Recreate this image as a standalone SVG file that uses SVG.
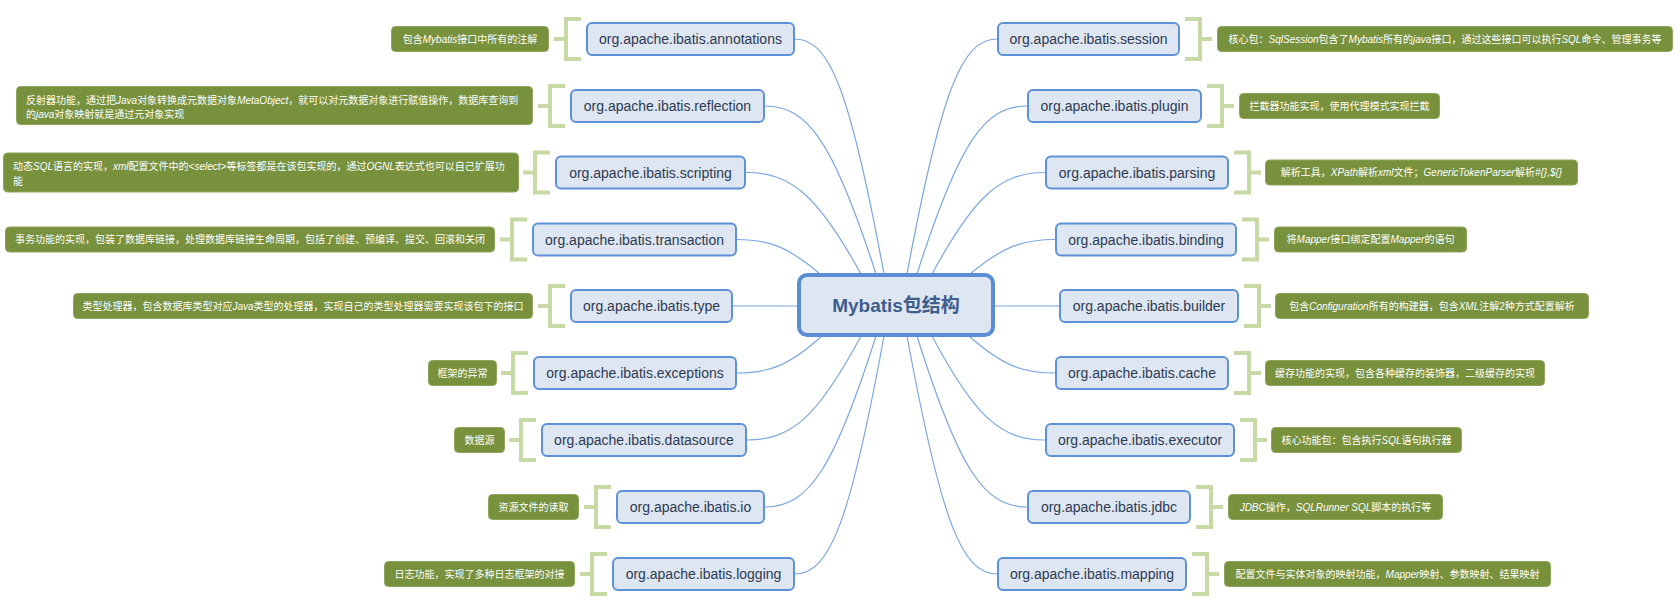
<svg xmlns="http://www.w3.org/2000/svg" width="1680" height="609" viewBox="0 0 1680 609">
<style>
.bg{fill:#ffffff}
.box{fill:#dde6f1;stroke:#5e92d8;stroke-width:2}
.central{fill:#dde6f1;stroke:#5a8dd3;stroke-width:4}
.btxt{font-family:"Liberation Sans","Noto Sans CJK SC",sans-serif;font-size:14px;fill:#2d3a52;text-anchor:middle}
.ctxt{font-family:"Liberation Sans","Noto Sans CJK SC",sans-serif;font-size:19px;font-weight:bold;fill:#3d5d8c;text-anchor:middle}
.lbl{fill:#78913d;stroke:#8fa65a;stroke-width:1}
.ltxt{font-family:"Liberation Sans","Noto Sans CJK SC",sans-serif;font-size:10px;fill:#ffffff;text-anchor:middle}
.ltxtl{font-family:"Liberation Sans","Noto Sans CJK SC",sans-serif;font-size:10px;fill:#ffffff;text-anchor:start}
.i{font-style:italic}
.br{fill:none;stroke:#c7daa6;stroke-width:4}
.con{fill:none;stroke:#7ba7e0;stroke-width:1.2}
</style>
<rect class="bg" x="0" y="0" width="1680" height="609"/>
<g id="connectors">
<path class="con" d="M795 39 C829.7 39 850.2 90.7 884 274"/>
<path class="con" d="M765 106 C808.3 106 833.8 143 876 274"/>
<path class="con" d="M746 172.5 C790.9 172.5 817.3 194.8 861 274"/>
<path class="con" d="M737 239.5 C769.4 239.5 788.5 247.1 820 274"/>
<path class="con" d="M733 306 L799 306"/>
<path class="con" d="M737 373 C770.2 373 789.7 364.9 822 336"/>
<path class="con" d="M747 440 C791.5 440 817.7 417.1 861 336"/>
<path class="con" d="M765 507 C808.3 507 833.8 469.4 876 336"/>
<path class="con" d="M795 574 C829.7 574 850.2 521.6 884 336"/>
<path class="con" d="M997 39 C961.9 39 941.2 90.7 907 274"/>
<path class="con" d="M1027 106 C984.1 106 958.8 143 917 274"/>
<path class="con" d="M1045 172.5 C1000.9 172.5 975 194.8 932 274"/>
<path class="con" d="M1055 239.5 C1021.9 239.5 1002.3 247.1 970 274"/>
<path class="con" d="M993 306 L1059 306"/>
<path class="con" d="M1055 373 C1021.5 373 1001.7 364.9 969 336"/>
<path class="con" d="M1045 440 C1000.9 440 975 417.1 932 336"/>
<path class="con" d="M1027 507 C984.1 507 958.8 469.4 917 336"/>
<path class="con" d="M997 574 C961.9 574 941.2 521.6 907 336"/>
</g>
<g id="node-central">
<rect class="central" x="799" y="275" width="194" height="60" rx="8"/>
<text class="ctxt" x="896" y="312">Mybatis包结构</text>
</g>
<g id="node-annotations">
<rect class="box" x="587" y="23" width="207" height="32" rx="5"/>
<text class="btxt" x="690.5" y="44">org.apache.ibatis.annotations</text>
<path class="br" d="M581 19 H566 V59 H581 M554 39 H566"/>
<rect class="lbl" x="391.5" y="26.5" width="157" height="25" rx="4"/>
<text class="ltxt" x="470" y="42.5">包含<tspan class="i">Mybatis</tspan>接口中所有的注解</text>
</g>
<g id="node-reflection">
<rect class="box" x="571" y="90" width="193" height="32" rx="5"/>
<text class="btxt" x="667.5" y="111">org.apache.ibatis.reflection</text>
<path class="br" d="M565 86 H550 V126 H565 M538 106 H550"/>
<rect class="lbl" x="16.5" y="86.5" width="516" height="38" rx="4"/>
<text class="ltxtl" x="26" y="104">反射器功能，通过把<tspan class="i">Java</tspan>对象转换成元数据对象<tspan class="i">MetaObject</tspan>，就可以对元数据对象进行赋值操作，数据库查询到</text>
<text class="ltxtl" x="26" y="118">的<tspan class="i">java</tspan>对象映射就是通过元对象实现</text>
</g>
<g id="node-scripting">
<rect class="box" x="556" y="156.5" width="189" height="32" rx="5"/>
<text class="btxt" x="650.5" y="177.5">org.apache.ibatis.scripting</text>
<path class="br" d="M550 152.5 H535 V192.5 H550 M523 172.5 H535"/>
<rect class="lbl" x="3.5" y="153" width="515" height="39" rx="4"/>
<text class="ltxtl" x="13" y="170">动态<tspan class="i">SQL</tspan>语言的实现，<tspan class="i">xml</tspan>配置文件中的<tspan class="i">&lt;select&gt;</tspan>等标签都是在该包实现的，通过<tspan class="i">OGNL</tspan>表达式也可以自己扩展功</text>
<text class="ltxtl" x="13" y="185">能</text>
</g>
<g id="node-transaction">
<rect class="box" x="533" y="223.5" width="203" height="32" rx="5"/>
<text class="btxt" x="634.5" y="244.5">org.apache.ibatis.transaction</text>
<path class="br" d="M527 219.5 H512 V259.5 H527 M500 239.5 H512"/>
<rect class="lbl" x="5.5" y="227" width="489" height="25" rx="4"/>
<text class="ltxt" x="250" y="243">事务功能的实现，包装了数据库链接，处理数据库链接生命周期，包括了创建、预编译、提交、回滚和关闭</text>
</g>
<g id="node-type">
<rect class="box" x="571" y="290" width="161" height="32" rx="5"/>
<text class="btxt" x="651.5" y="311">org.apache.ibatis.type</text>
<path class="br" d="M565 286 H550 V326 H565 M538 306 H550"/>
<rect class="lbl" x="73.5" y="293.5" width="459" height="25" rx="4"/>
<text class="ltxt" x="303" y="309.5">类型处理器，包含数据库类型对应<tspan class="i">Java</tspan>类型的处理器，实现自己的类型处理器需要实现该包下的接口</text>
</g>
<g id="node-exceptions">
<rect class="box" x="534" y="357" width="202" height="32" rx="5"/>
<text class="btxt" x="635" y="378">org.apache.ibatis.exceptions</text>
<path class="br" d="M528 353 H513 V393 H528 M501 373 H513"/>
<rect class="lbl" x="428.5" y="360.5" width="68" height="25" rx="4"/>
<text class="ltxt" x="462.5" y="376.5">框架的异常</text>
</g>
<g id="node-datasource">
<rect class="box" x="542" y="424" width="204" height="32" rx="5"/>
<text class="btxt" x="644" y="445">org.apache.ibatis.datasource</text>
<path class="br" d="M536 420 H521 V460 H536 M509 440 H521"/>
<rect class="lbl" x="454.5" y="427.5" width="50" height="25" rx="4"/>
<text class="ltxt" x="479.5" y="443.5">数据源</text>
</g>
<g id="node-io">
<rect class="box" x="617" y="491" width="147" height="32" rx="5"/>
<text class="btxt" x="690.5" y="512">org.apache.ibatis.io</text>
<path class="br" d="M611 487 H596 V527 H611 M584 507 H596"/>
<rect class="lbl" x="488.5" y="494.5" width="90" height="25" rx="4"/>
<text class="ltxt" x="533.5" y="510.5">资源文件的读取</text>
</g>
<g id="node-logging">
<rect class="box" x="613" y="558" width="181" height="32" rx="5"/>
<text class="btxt" x="703.5" y="579">org.apache.ibatis.logging</text>
<path class="br" d="M607 554 H592 V594 H607 M580 574 H592"/>
<rect class="lbl" x="384.5" y="561.5" width="190" height="25" rx="4"/>
<text class="ltxt" x="479.5" y="577.5">日志功能，实现了多种日志框架的对接</text>
</g>
<g id="node-session">
<rect class="box" x="998" y="23" width="181" height="32" rx="5"/>
<text class="btxt" x="1088.5" y="44">org.apache.ibatis.session</text>
<path class="br" d="M1185 19 H1200 V59 H1185 M1200 39 H1212"/>
<rect class="lbl" x="1217.5" y="26.5" width="455" height="25" rx="4"/>
<text class="ltxt" x="1445" y="42.5">核心包：<tspan class="i">SqlSession</tspan>包含了<tspan class="i">Mybatis</tspan>所有的<tspan class="i">java</tspan>接口，通过这些接口可以执行<tspan class="i">SQL</tspan>命令、管理事务等</text>
</g>
<g id="node-plugin">
<rect class="box" x="1028" y="90" width="173" height="32" rx="5"/>
<text class="btxt" x="1114.5" y="111">org.apache.ibatis.plugin</text>
<path class="br" d="M1207 86 H1222 V126 H1207 M1222 106 H1234"/>
<rect class="lbl" x="1239.5" y="93.5" width="200" height="25" rx="4"/>
<text class="ltxt" x="1339.5" y="109.5">拦截器功能实现，使用代理模式实现拦截</text>
</g>
<g id="node-parsing">
<rect class="box" x="1046" y="156.5" width="182" height="32" rx="5"/>
<text class="btxt" x="1137" y="177.5">org.apache.ibatis.parsing</text>
<path class="br" d="M1234 152.5 H1249 V192.5 H1234 M1249 172.5 H1261"/>
<rect class="lbl" x="1265.5" y="160" width="312" height="25" rx="4"/>
<text class="ltxt" x="1421.5" y="176">解析工具，<tspan class="i">XPath</tspan>解析<tspan class="i">xml</tspan>文件；<tspan class="i">GenericTokenParser</tspan>解析<tspan class="i">#{},${}</tspan></text>
</g>
<g id="node-binding">
<rect class="box" x="1056" y="223.5" width="180" height="32" rx="5"/>
<text class="btxt" x="1146" y="244.5">org.apache.ibatis.binding</text>
<path class="br" d="M1242 219.5 H1257 V259.5 H1242 M1257 239.5 H1269"/>
<rect class="lbl" x="1274.5" y="227" width="192" height="25" rx="4"/>
<text class="ltxt" x="1370.5" y="243">将<tspan class="i">Mapper</tspan>接口绑定配置<tspan class="i">Mapper</tspan>的语句</text>
</g>
<g id="node-builder">
<rect class="box" x="1060" y="290" width="178" height="32" rx="5"/>
<text class="btxt" x="1149" y="311">org.apache.ibatis.builder</text>
<path class="br" d="M1244 286 H1259 V326 H1244 M1259 306 H1271"/>
<rect class="lbl" x="1275.5" y="293.5" width="313" height="25" rx="4"/>
<text class="ltxt" x="1432" y="309.5">包含<tspan class="i">Configuration</tspan>所有的构建器，包含<tspan class="i">XML</tspan>注解2种方式配置解析</text>
</g>
<g id="node-cache">
<rect class="box" x="1056" y="357" width="172" height="32" rx="5"/>
<text class="btxt" x="1142" y="378">org.apache.ibatis.cache</text>
<path class="br" d="M1234 353 H1249 V393 H1234 M1249 373 H1261"/>
<rect class="lbl" x="1265.5" y="360.5" width="279" height="25" rx="4"/>
<text class="ltxt" x="1405" y="376.5">缓存功能的实现，包含各种缓存的装饰器，二级缓存的实现</text>
</g>
<g id="node-executor">
<rect class="box" x="1046" y="424" width="188" height="32" rx="5"/>
<text class="btxt" x="1140" y="445">org.apache.ibatis.executor</text>
<path class="br" d="M1240 420 H1255 V460 H1240 M1255 440 H1267"/>
<rect class="lbl" x="1271.5" y="427.5" width="190" height="25" rx="4"/>
<text class="ltxt" x="1366.5" y="443.5">核心功能包：包含执行<tspan class="i">SQL</tspan>语句执行器</text>
</g>
<g id="node-jdbc">
<rect class="box" x="1028" y="491" width="162" height="32" rx="5"/>
<text class="btxt" x="1109" y="512">org.apache.ibatis.jdbc</text>
<path class="br" d="M1196 487 H1211 V527 H1196 M1211 507 H1223"/>
<rect class="lbl" x="1228.5" y="494.5" width="214" height="25" rx="4"/>
<text class="ltxt" x="1335.5" y="510.5"><tspan class="i">JDBC</tspan>操作，<tspan class="i">SQLRunner SQL</tspan>脚本的执行等</text>
</g>
<g id="node-mapping">
<rect class="box" x="998" y="558" width="188" height="32" rx="5"/>
<text class="btxt" x="1092" y="579">org.apache.ibatis.mapping</text>
<path class="br" d="M1192 554 H1207 V594 H1192 M1207 574 H1219"/>
<rect class="lbl" x="1224.5" y="561.5" width="326" height="25" rx="4"/>
<text class="ltxt" x="1387.5" y="577.5">配置文件与实体对象的映射功能，<tspan class="i">Mapper</tspan>映射、参数映射、结果映射</text>
</g>
</svg>
